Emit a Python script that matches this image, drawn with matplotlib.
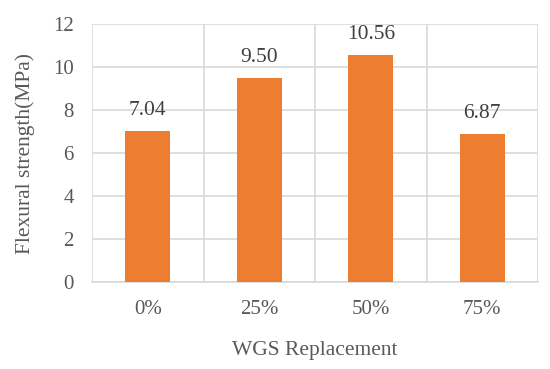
import numpy as np
import matplotlib.pyplot as plt

categories = ["0%", "25%", "50%", "75%"]
strength = [7.04, 9.50, 10.56, 6.87]
labels = ["7.04", "9.50", "10.56", "6.87"]

plt.rcParams["font.family"] = ["Liberation Serif", "DejaVu Serif"]

fig = plt.figure(figsize=(5.5, 3.69), dpi=100)
ax = fig.add_axes([92 / 550, 1 - 282 / 369, (538 - 92) / 550, (282 - 24) / 369])

x = np.arange(len(categories))
ax.bar(x, strength, width=0.4, color="#ED7D31", zorder=3)

for xi, v, lab in zip(x, strength, labels):
    ax.annotate(lab, (xi, v), xytext=(0, 8), textcoords="offset points",
                ha="center", va="bottom", fontsize=15.5, color="#404040")

ax.set_xlim(-0.5, len(categories) - 0.5)
ax.set_ylim(0, 12)
ax.set_yticks(range(0, 13, 2))
ax.set_xticks(x)
ax.set_xticklabels(categories)

# vertical grid lines between categories
ax.set_xticks(np.arange(-0.5, len(categories), 1), minor=True)
ax.grid(axis="y", color="#D9D9D9", linewidth=1.2, zorder=0)
ax.grid(axis="x", which="minor", color="#D9D9D9", linewidth=1.2, zorder=0)
ax.tick_params(which="both", length=0, labelsize=15, colors="#595959")
ax.tick_params(axis="x", pad=13)
ax.tick_params(axis="y", pad=13)

for side in ["top", "right", "left"]:
    ax.spines[side].set_visible(False)
ax.spines["bottom"].set_color("#D9D9D9")
ax.spines["bottom"].set_linewidth(1.2)

ax.set_xlabel("WGS Replacement", fontsize=15.5, color="#595959", labelpad=16)
ax.set_ylabel("Flexural strength(MPa)", fontsize=15.5, color="#595959", labelpad=13)

fig.savefig("out.png", dpi=100)
